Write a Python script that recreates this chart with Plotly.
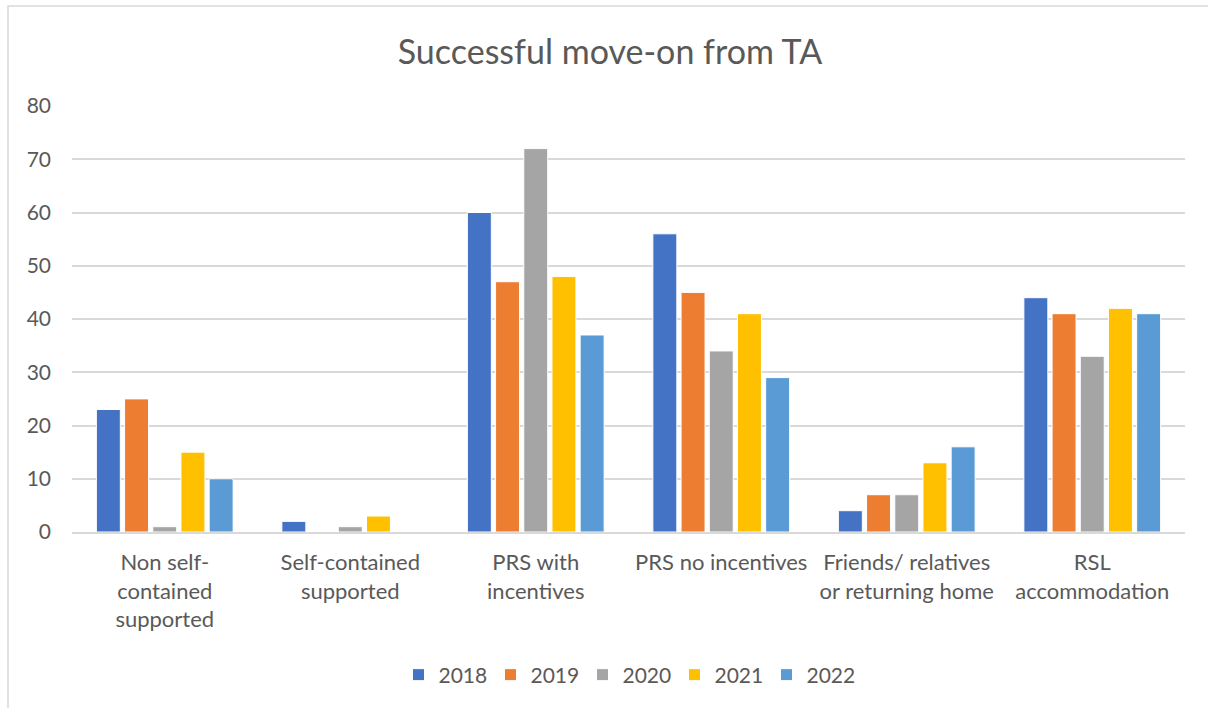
import plotly.graph_objects as go

categories = ["Non self-<br>contained<br>supported", "Self-contained<br>supported",
              "PRS with<br>incentives", "PRS no incentives",
              "Friends/ relatives<br>or returning home", "RSL<br>accommodation"]
years = ["2018", "2019", "2020", "2021", "2022"]
v2018 = [23, 2, 60, 56, 4, 44]
v2019 = [25, 0, 47, 45, 7, 41]
v2020 = [1, 1, 72, 34, 7, 33]
v2021 = [15, 3, 48, 41, 13, 42]
v2022 = [10, 0, 37, 29, 16, 41]
series = [v2018, v2019, v2020, v2021, v2022]
colors = ["#4472C4", "#ED7D31", "#A5A5A5", "#FFC000", "#5B9BD5"]

FONT = "Lato, Carlito, Liberation Sans, sans-serif"
GREY = "#595959"

fig = go.Figure()
for y, vals, c in zip(years, series, colors):
    fig.add_trace(go.Bar(name=y, x=categories, y=vals, marker_color=c,
                         marker_line=dict(color="white", width=1)))

W, H = 1208, 708
ml, mr, mt, mb = 72, 23, 106, 176
pw, ph = W - ml - mr, H - mt - mb

def px(x):
    return (x - ml) / pw

def py(y):
    return (H - mb - y) / ph

fig.update_layout(
    width=W, height=H,
    margin=dict(l=ml, r=mr, t=mt, b=mb),
    paper_bgcolor="white", plot_bgcolor="white",
    font=dict(family=FONT, color=GREY, size=21),
    title=dict(text="Successful move-on from TA", x=0.505, xanchor="center",
               y=1 - 52 / H, yanchor="middle",
               font=dict(size=34, color=GREY, family=FONT)),
    barmode="group", bargap=0.24, bargroupgap=0.15,
    showlegend=True,
    legend=dict(orientation="h", x=0.5, xanchor="center", y=py(675), yanchor="middle",
                font=dict(size=21, color=GREY), itemwidth=30, traceorder="normal",
                entrywidth=47, entrywidthmode="pixels"),
    xaxis=dict(showgrid=False, showline=True, linecolor="#D9D9D9", linewidth=1.5,
               ticks="", tickfont=dict(size=22, color=GREY), ticklabelstandoff=10),
    yaxis=dict(range=[0, 80], dtick=10, showgrid=True, gridcolor="#D9D9D9", gridwidth=1.5,
               zeroline=False, showline=False, ticks="",
               tickfont=dict(size=21, color=GREY), ticklabelstandoff=20),
    shapes=[dict(type="rect", xref="paper", yref="paper",
                 x0=px(8), x1=px(1300), y0=py(800), y1=py(6),
                 line=dict(color="#D9D9D9", width=1.5), fillcolor="rgba(0,0,0,0)",
                 layer="below")],
)

fig.write_html("out.html", config={"displayModeBar": False},
               post_script="document.body.style.margin='0';")
